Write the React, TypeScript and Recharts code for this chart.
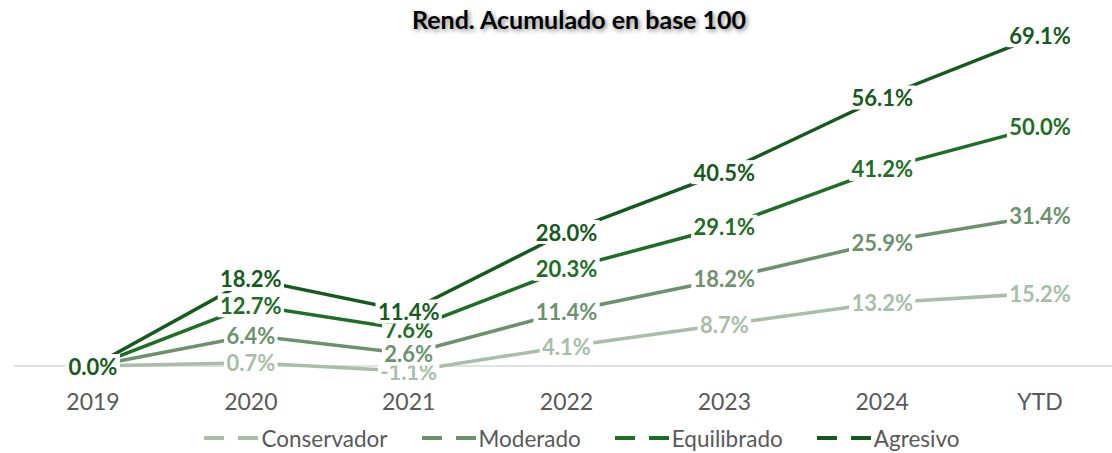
import React from "react";
import { LineChart, Line, XAxis, YAxis, Legend, ReferenceLine, LabelList } from "recharts";

const years = ["2019", "2020", "2021", "2022", "2023", "2024", "YTD"];
const conservador = [0, 0.7, -1.1, 4.1, 8.7, 13.2, 15.2];
const moderado = [0, 6.4, 2.6, 11.4, 18.2, 25.9, 31.4];
const equilibrado = [0, 12.7, 7.6, 20.3, 29.1, 41.2, 50.0];
const agresivo = [0, 18.2, 11.4, 28.0, 40.5, 56.1, 69.1];

const SERIES = [
  { key: "conservador", name: "Conservador", color: "#a9bea9", values: conservador },
  { key: "moderado", name: "Moderado", color: "#6c926d", values: moderado },
  { key: "equilibrado", name: "Equilibrado", color: "#1e6f25", values: equilibrado },
  { key: "agresivo", name: "Agresivo", color: "#155a1d", values: agresivo },
];

const data = years.map((year, i) => {
  const row: Record<string, string | number> = { year };
  SERIES.forEach((s) => (row[s.key] = s.values[i]));
  return row;
});

const FONT = "Lato, 'Noto Sans', sans-serif";
const LABEL_SIZE = 22;

function textWidth(str: string) {
  let w = 0;
  for (const ch of str) {
    if (ch === ".") w += 0.27;
    else if (ch === "%") w += 0.82;
    else if (ch === "-") w += 0.36;
    else w += 0.58;
  }
  return w * LABEL_SIZE;
}

function makeLabel(color: string) {
  return (props: any) => {
    const { x, y, value } = props;
    if (x == null || y == null) return null;
    const txt = `${Number(value).toFixed(1)}%`;
    const w = textWidth(txt) + 4;
    const h = LABEL_SIZE + 2;
    return (
      <g>
        <rect x={x - w / 2} y={y - h / 2} width={w} height={h} fill="#ffffff" />
        <text
          x={x}
          y={y}
          textAnchor="middle"
          dominantBaseline="central"
          fill={color}
          fontFamily={FONT}
          fontWeight="bold"
          fontSize={LABEL_SIZE}
        >
          {txt}
        </text>
      </g>
    );
  };
}

function renderLegend() {
  return (
    <div style={{ display: "flex", justifyContent: "center", height: 30, alignItems: "center", paddingLeft: 68 }}>
      {SERIES.map((s) => (
        <div key={s.key} style={{ display: "flex", alignItems: "center", marginRight: 32 }}>
          <svg width={58} height={10}>
            <line x1={2} y1={5} x2={56} y2={5} stroke={s.color} strokeWidth={4} strokeDasharray="20 14" />
          </svg>
          <span style={{ fontFamily: FONT, fontSize: 22.5, color: "#595959", marginLeft: 1 }}>{s.name}</span>
        </div>
      ))}
    </div>
  );
}

export default function App() {
  return (
    <div style={{ position: "absolute", left: 0, top: 0, width: 1112, height: 453, background: "#fff" }}>
      <LineChart width={1112} height={453} data={data} margin={{ top: 7, right: 0, left: 14, bottom: 0 }}>
        <XAxis
          dataKey="year"
          axisLine={false}
          tickLine={false}
          tickSize={0}
          tickMargin={4}
          height={33}
          padding={{ left: 79, right: 72 }}
          tick={{ fill: "#595959", fontSize: 23, fontFamily: FONT }}
        />
        <YAxis hide domain={[-5, 75]} />
        <ReferenceLine y={0} stroke="#d9d9d9" strokeWidth={1.5} />
        {SERIES.map((s) => (
          <Line
            key={s.key}
            dataKey={s.key}
            name={s.name}
            stroke={s.color}
            strokeWidth={3.5}
            dot={false}
            isAnimationActive={false}
          />
        ))}
        {SERIES.map((s) => (
          <Line
            key={s.key + "-labels"}
            dataKey={s.key}
            stroke="none"
            dot={false}
            legendType="none"
            isAnimationActive={false}
          >
            <LabelList dataKey={s.key} content={makeLabel(s.color)} />
          </Line>
        ))}
        <Legend verticalAlign="bottom" height={30} content={renderLegend} />
      </LineChart>
      <div
        style={{
          position: "absolute",
          top: 4,
          left: 0,
          width: 1158,
          textAlign: "center",
          fontFamily: FONT,
          fontWeight: "bold",
          fontSize: 25,
          color: "#000",
          textShadow: "2px 2px 4px rgba(0,0,0,0.45)",
        }}
      >
        Rend. Acumulado en base 100
      </div>
    </div>
  );
}
